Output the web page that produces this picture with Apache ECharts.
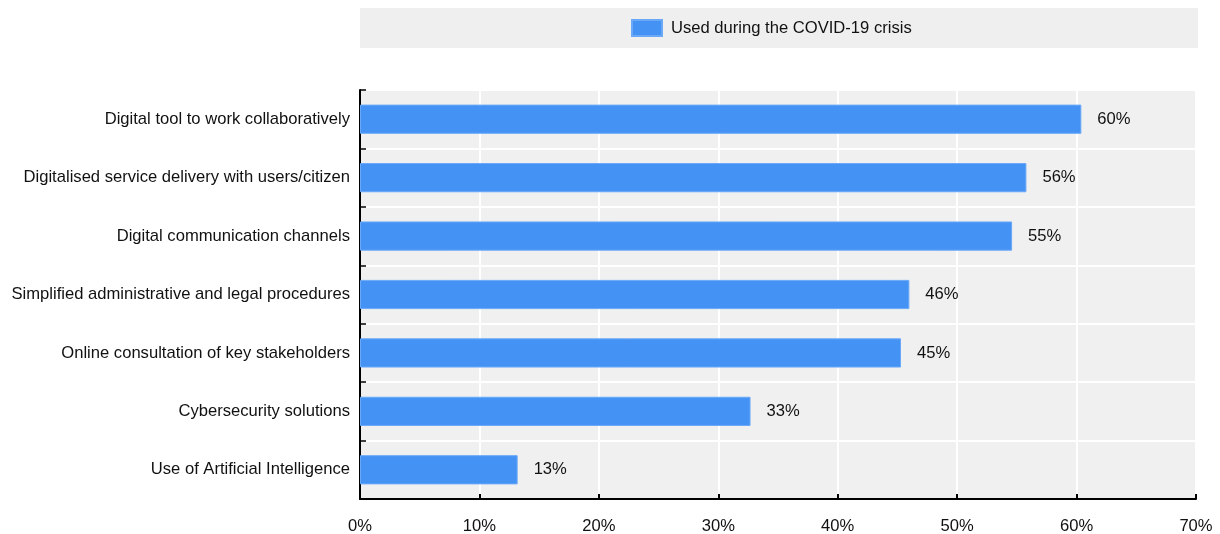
<!DOCTYPE html>
<html>
<head>
<meta charset="utf-8">
<script src="https://cdn.jsdelivr.net/npm/echarts@6/dist/echarts.min.js"></script>
<style>
  html, body { margin: 0; padding: 0; background: #ffffff; }
  #chart { width: 1220px; height: 534px; }
</style>
</head>
<body>
<div id="chart"></div>
<script>
// Digital tools used by public administrations during the COVID-19 crisis
const categories = [
  'Digital tool to work collaboratively',
  'Digitalised service delivery with users/citizen',
  'Digital communication channels',
  'Simplified administrative and legal procedures',
  'Online consultation of key stakeholders',
  'Cybersecurity solutions',
  'Use of Artificial Intelligence'
];
const usedDuringCrisis = [60.4, 55.8, 54.6, 46.0, 45.3, 32.7, 13.2];
const seriesName = 'Used during the COVID-19 crisis';
const xTicks = [0, 10, 20, 30, 40, 50, 60, 70];

const FONT = '"Liberation Sans", Arial, sans-serif';
const FS = 16.6;
const BLUE = '#4592f5';

const chart = echarts.init(document.getElementById('chart'), null, { renderer: 'canvas' });

chart.setOption({
  animation: false,
  backgroundColor: '#ffffff',
  textStyle: { fontFamily: FONT },
  graphic: [{
    type: 'rect',
    z: -1,
    shape: { x: 360, y: 8, width: 838, height: 40 },
    style: { fill: '#efefef' }
  }],
  legend: {
    left: 626,
    top: 14,
    itemWidth: 30,
    itemHeight: 16,
    itemGap: 10,
    icon: 'rect',
    textStyle: { fontFamily: FONT, fontSize: FS, color: '#111111', padding: [0, 0, 0, 4] },
    data: [seriesName]
  },
  grid: {
    left: 360,
    right: 24,
    top: 90,
    bottom: 35,
    outerBoundsMode: 'none',
    show: true,
    backgroundColor: '#f0f0f0',
    borderWidth: 0
  },
  xAxis: {
    type: 'value',
    min: xTicks[0],
    max: xTicks[xTicks.length - 1],
    interval: 10,
    axisLine: { show: true, lineStyle: { color: '#000000', width: 2 } },
    axisTick: { show: true, inside: true, length: 5, lineStyle: { color: '#000000', width: 2 } },
    axisLabel: { formatter: '{value}%', fontFamily: FONT, fontSize: FS, color: '#111111', margin: 19 },
    splitLine: { show: true, lineStyle: { color: '#ffffff', width: 2 } }
  },
  yAxis: {
    type: 'category',
    inverse: true,
    data: categories,
    axisLine: { show: true, lineStyle: { color: '#000000', width: 2 } },
    axisTick: { show: true, inside: true, length: 6, lineStyle: { color: '#000000', width: 1.5 } },
    axisLabel: { fontFamily: FONT, fontSize: FS, color: '#111111', margin: 10 },
    splitLine: { show: true, lineStyle: { color: '#ffffff', width: 2 } }
  },
  series: [{
    name: seriesName,
    type: 'bar',
    data: usedDuringCrisis,
    barWidth: '50%',
    itemStyle: { color: BLUE, borderColor: '#6aa9f8', borderWidth: 1 },
    label: {
      show: true,
      position: 'right',
      distance: 16,
      fontFamily: FONT,
      fontSize: FS,
      color: '#111111',
      formatter: p => Math.round(p.value) + '%'
    }
  }]
});
</script>
</body>
</html>
